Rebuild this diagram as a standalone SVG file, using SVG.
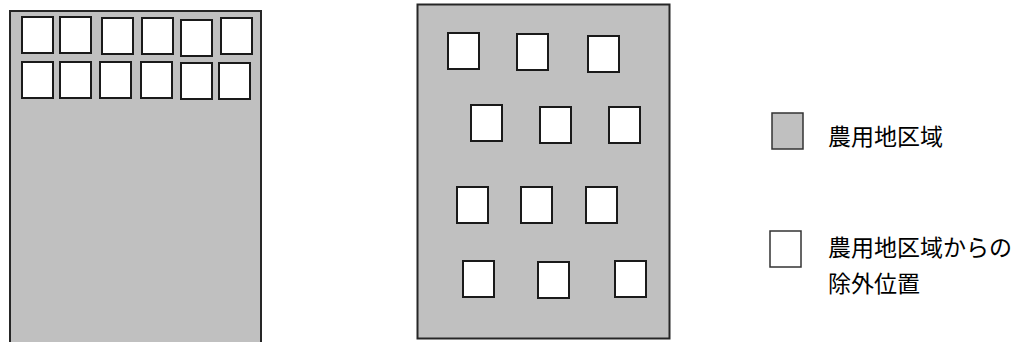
<svg xmlns="http://www.w3.org/2000/svg" width="1013" height="342" viewBox="0 0 1013 342">
<style>
.area{fill:#c0c0c0;stroke:#262626;stroke-width:2}
.ex{fill:#ffffff;stroke:#1a1a1a;stroke-width:2}
.lg{fill:#c0c0c0;stroke:#333;stroke-width:1.5}
.lw{fill:#ffffff;stroke:#333;stroke-width:1.5}
.t{font-family:"Noto Sans CJK JP","Noto Sans CJK SC",sans-serif;font-size:23px;fill:#000}
</style>
<rect width="1013" height="342" fill="#ffffff"/>
<g id="left-area">
<rect class="area" x="10" y="11" width="251" height="340"/>
<rect class="ex" x="22" y="17" width="31" height="36"/>
<rect class="ex" x="60" y="17" width="31" height="36"/>
<rect class="ex" x="102" y="18" width="31" height="36"/>
<rect class="ex" x="142" y="18" width="31" height="36"/>
<rect class="ex" x="181" y="20" width="31" height="36"/>
<rect class="ex" x="221" y="18" width="31" height="36"/>
<rect class="ex" x="22" y="62" width="31" height="36"/>
<rect class="ex" x="60" y="62" width="31" height="36"/>
<rect class="ex" x="100" y="62" width="31" height="36"/>
<rect class="ex" x="141" y="62" width="31" height="36"/>
<rect class="ex" x="181" y="63" width="31" height="36"/>
<rect class="ex" x="219" y="63" width="31" height="36"/>
</g>
<g id="middle-area">
<rect class="area" x="417.5" y="4.5" width="252" height="334"/>
<rect class="ex" x="448" y="33" width="31" height="36"/>
<rect class="ex" x="517" y="34" width="31" height="36"/>
<rect class="ex" x="588" y="36" width="31" height="36"/>
<rect class="ex" x="471" y="105" width="31" height="36"/>
<rect class="ex" x="540" y="107" width="31" height="36"/>
<rect class="ex" x="609" y="107" width="31" height="36"/>
<rect class="ex" x="457" y="187" width="31" height="36"/>
<rect class="ex" x="521" y="187" width="31" height="36"/>
<rect class="ex" x="586" y="187" width="31" height="36"/>
<rect class="ex" x="463" y="261" width="31" height="36"/>
<rect class="ex" x="538" y="262" width="31" height="36"/>
<rect class="ex" x="615" y="261" width="31" height="36"/>
</g>
<g id="legend-farm">
<rect class="lg" x="772" y="113" width="31" height="36"/>
<text class="t" x="828" y="145">農用地区域</text>
</g>
<g id="legend-excluded">
<rect class="lw" x="770" y="231" width="31" height="36"/>
<text class="t" x="828" y="256">農用地区域からの</text>
<text class="t" x="828" y="292">除外位置</text>
</g>
<g id="connectors"></g>
</svg>
